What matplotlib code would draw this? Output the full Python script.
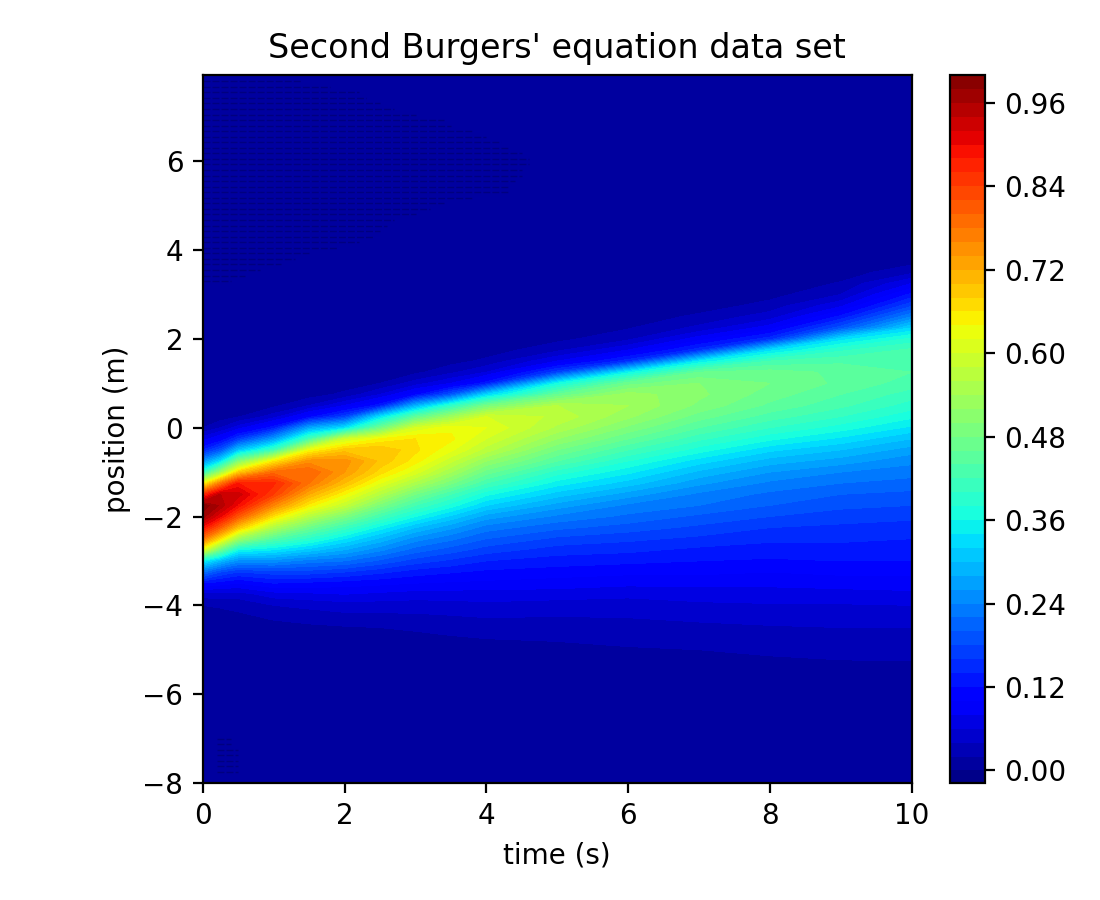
import numpy as np
import matplotlib
matplotlib.use('Agg')
import matplotlib.pyplot as plt

# time columns and position rows of the table below
times = [0, 0.25, 0.5, 1, 1.5, 2, 2.5, 3, 3.5, 4, 5, 6, 7, 8, 9, 10]
positions = [-8, -6, -5.5, -5, -4.5,
             -4, -3.75, -3.5, -3.25, -3,
             -2.75, -2.5, -2.25, -2, -1.75,
             -1.5, -1.25, -1, -0.75, -0.5,
             -0.25, 0, 0.25, 0.5, 0.75,
             1, 1.25, 1.5, 1.75, 2,
             2.25, 2.5, 2.75, 3, 3.25,
             3.5, 3.75, 4,
             8]

# values, one list per time
u_t0 = [.005, .005, .005, .005, .005,
        .02, .05, .12, .22, .35,
        .61, .78, .89, .97, .995,
        .85, .63, .39, .25, .14,
        .07, .02, .005, .005, .005,
        .005, .005, .005, .005, .005,
        .005, .005, .005, .005, .005,
        .005, .005, .005,
        .005]
u_t025 = [.005, .005, .005, .005, .006,
          .022, .05, .11, .18, .29,
          .47, .66, .80, .90, .955,
          .94, .77, .53, .33, .19,
          .10, .04, .008, .005, .005,
          .005, .005, .005, .005, .005,
          .005, .005, .005, .005, .005,
          .005, .005, .005,
          .005]
u_t05 = [.005, .005, .005, .005, .008,
         .025, .05, .10, .16, .25,
         .36, .53, .69, .81, .895,
         .93, .88, .68, .49, .30,
         .16, .07, .018, .005, .005,
         .005, .005, .005, .005, .005,
         .005, .005, .005, .005, .005,
         .005, .005, .005,
         .005]
u_t1 = [.005, .005, .005, .006, .01,
        .04, .07, .12, .17, .25,
        .34, .44, .55, .66, .76,
        .84, .865, .79, .65, .41,
        .26, .13, .05, .015, .005,
        .005, .005, .005, .005, .005,
        .005, .005, .005, .005, .005,
        .005, .005, .005,
        .005]
u_t15 = [.005, .005, .005, .007, .015,
         .045, .075, .115, .17, .23,
         .31, .39, .47, .56, .65,
         .72, .78, .80, .75, .63,
         .42, .27, .11, .04, .01,
         .005, .005, .005, .005, .005,
         .005, .005, .005, .005, .005,
         .005, .005, .005,
         .005]
u_t2 = [.005, .005, .005, .008, .018,
        .05, .08, .11, .16, .22,
        .28, .34, .41, .49, .58,
        .64, .70, .74, .75, .69,
        .59, .33, .17, .08, .025,
        .008, .005, .005, .005, .005,
        .005, .005, .005, .005, .005,
        .005, .005, .005,
        .005]
u_t25 = [.005, .005, .005, .009, .02,
         .05, .075, .105, .145, .195,
         .245, .295, .35, .42, .49,
         .56, .62, .67, .695, .70,
         .64, .47, .33, .13, .06,
         .02, .007, .005, .005, .005,
         .005, .005, .005, .005, .005,
         .005, .005, .005,
         .005]
u_t3 = [.005, .005, .006, .01, .022,
        .05, .07, .10, .13, .17,
        .21, .25, .30, .36, .42,
        .48, .55, .61, .65, .665,
        .66, .60, .45, .28, .11,
        .05, .015, .006, .005, .005,
        .005, .005, .005, .005, .005,
        .005, .005, .005,
        .005]
u_t35 = [.005, .005, .006, .011, .025,
         .052, .07, .097, .122, .155,
         .19, .225, .265, .315, .37,
         .42, .485, .54, .585, .625,
         .645, .635, .53, .39, .19,
         .08, .035, .012, .005, .005,
         .005, .005, .005, .005, .005,
         .005, .005, .005,
         .005]
u_t4 = [.005, .005, .006, .012, .028,
        .055, .07, .095, .115, .14,
        .17, .20, .23, .27, .32,
        .365, .42, .47, .52, .57,
        .60, .62, .60, .48, .32,
        .13, .06, .025, .008, .005,
        .005, .005, .005, .005, .005,
        .005, .005, .005,
        .005]
u_t5 = [.005, .005, .007, .014, .03,
        .05, .07, .09, .11, .13,
        .15, .175, .205, .235, .27,
        .31, .35, .39, .44, .48,
        .52, .555, .575, .56, .46,
        .36, .17, .08, .035, .014,
        .005, .005, .005, .005, .005,
        .005, .005, .005,
        .005]
u_t6 = [.005, .005, .008, .018, .032,
        .05, .065, .085, .105, .125,
        .145, .165, .19, .215, .235,
        .27, .31, .345, .38, .42,
        .46, .495, .525, .54, .53,
        .47, .35, .15, .08, .035,
        .018, .005, .005, .005, .005,
        .005, .005, .005,
        .005]
u_t7 = [.005, .005, .01, .02, .035,
        .055, .07, .085, .105, .12,
        .135, .155, .175, .195, .22,
        .235, .265, .295, .33, .37,
        .405, .44, .47, .495, .505,
        .50, .46, .34, .15, .09,
        .045, .025, .008, .005, .005,
        .005, .005, .005,
        .005]
u_t8 = [.005, .005, .012, .023, .038,
        .058, .07, .085, .10, .117,
        .13, .145, .16, .18, .20,
        .215, .235, .26, .29, .325,
        .365, .40, .43, .455, .47,
        .48, .47, .42, .33, .15,
        .09, .05, .028, .012, .005,
        .005, .005, .005,
        .005]
u_t9 = [.005, .005, .014, .025, .04,
        .058, .072, .088, .105, .12,
        .13, .145, .155, .17, .185,
        .20, .22, .24, .27, .30,
        .335, .37, .40, .425, .44,
        .455, .455, .435, .395, .33,
        .19, .125, .075, .04, .022,
        .008, .005, .005,
        .005]
u_t10 = [.005, .005, .015, .025, .04,
         .06, .075, .09, .105, .12,
         .13, .14, .15, .165, .18,
         .195, .21, .23, .245, .27,
         .30, .335, .365, .39, .41,
         .43, .44, .44, .425, .385,
         .32, .24, .175, .125, .08,
         .035, .012, .005,
         .005]

# thin dark streaks (slightly negative values) in the upper left and lower left
streak_y = [7.8, 7.675, 7.55, 7.425, 7.3, 7.175, 7.05, 6.925, 6.8, 6.675,
            6.55, 6.425, 6.3, 6.175, 6.05, 5.925, 5.8, 5.675, 5.55, 5.425,
            5.3, 5.175, 5.05, 4.925, 4.8, 4.675, 4.55, 4.425, 4.3, 4.175,
            4.05, 3.925, 3.8, 3.675, 3.55, 3.425, 3.3]
streak_end = [1.4, 1.8, 2.2, 2.3, 2.5, 2.7, 3.0, 3.4, 3.5, 3.8,
              4.0, 4.2, 4.3, 4.5, 4.6, 4.6, 4.5, 4.5, 4.4, 4.3,
              4.3, 3.8, 3.4, 3.2, 3.0, 2.7, 2.6, 2.5, 2.4, 2.2,
              1.9, 1.5, 1.3, 1.1, 0.8, 0.6, 0.4]
streak2_y = [-7.0, -7.125, -7.25, -7.375, -7.5, -7.625, -7.75]
streak2_start = [0.2, 0.2, 0.2, 0.2, 0.2, 0.2, 0.2]
streak2_end = [0.4, 0.4, 0.5, 0.5, 0.5, 0.5, 0.5]

levels = [-0.018] + [round(0.02 * i, 2) for i in range(51)]
cbar_ticks = [0, 0.12, 0.24, 0.36, 0.48, 0.60, 0.72, 0.84, 0.96]

U = np.array([u_t0, u_t025, u_t05, u_t1, u_t15, u_t2, u_t25, u_t3, u_t35,
              u_t4, u_t5, u_t6, u_t7, u_t8, u_t9, u_t10]).T

fig = plt.figure(figsize=(5.5, 4.5), dpi=200)
ax = fig.add_axes([202.8 / 1100, 117 / 900, 709 / 1100, 708 / 900])
cax = fig.add_axes([950 / 1100, 117 / 900, 35 / 1100, 708 / 900])

cf = ax.contourf(times, positions, U, levels=levels, cmap='jet')
ax.hlines(streak_y, 0, streak_end, color='#00007f', lw=0.5, linestyles=(0, (5, 1.5)))
ax.hlines(streak2_y, streak2_start, streak2_end, color='#00007f', lw=0.5, linestyles=(0, (5, 1.5)))

ax.set_xlim(0, 10)
ax.set_ylim(-8, 7.94)
ax.set_xticks([0, 2, 4, 6, 8, 10])
ax.set_yticks([-8, -6, -4, -2, 0, 2, 4, 6])
ax.set_xlabel('time (s)')
ax.set_ylabel('position (m)')
ax.set_title("Second Burgers' equation data set")

fig.colorbar(cf, cax=cax, ticks=cbar_ticks, format='%.2f', spacing='proportional')

fig.savefig('out.png', dpi=200)
